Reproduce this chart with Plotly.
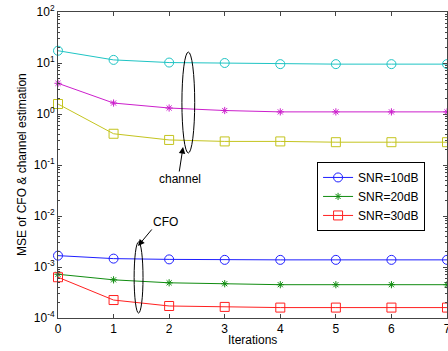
import plotly.graph_objects as go

iterations = [0, 1, 2, 3, 4, 5, 6, 7]

# channel estimation MSE
ch_snr10 = [17.4, 11.5, 10.2, 10.0, 9.5, 9.5, 9.5, 9.5]
ch_snr20 = [4.0, 1.64, 1.31, 1.17, 1.1, 1.1, 1.1, 1.1]
ch_snr30 = [1.57, 0.41, 0.31, 0.29, 0.29, 0.28, 0.28, 0.28]

# CFO MSE
cfo_snr10 = [1.67e-3, 1.46e-3, 1.41e-3, 1.38e-3, 1.38e-3, 1.38e-3, 1.38e-3, 1.38e-3]
cfo_snr20 = [7.2e-4, 5.6e-4, 4.9e-4, 4.7e-4, 4.5e-4, 4.5e-4, 4.5e-4, 4.5e-4]
cfo_snr30 = [6.3e-4, 2.25e-4, 1.72e-4, 1.65e-4, 1.6e-4, 1.6e-4, 1.6e-4, 1.6e-4]

legend_names = ["SNR=10dB", "SNR=20dB", "SNR=30dB"]

y_tickvals = [1e-4, 1e-3, 1e-2, 1e-1, 1, 10, 100]
y_ticktext = ["10<sup>-4</sup>", "10<sup>-3</sup>", "10<sup>-2</sup>", "10<sup>-1</sup>",
              "10<sup>0</sup>", "10<sup>1</sup>", "10<sup>2</sup>"]

FONT = "Liberation Sans, Arial, sans-serif"

fig = go.Figure()

def add(y, color, symbol, size, name=None, show=False):
    fig.add_trace(go.Scatter(
        x=iterations, y=y, mode="lines+markers",
        line=dict(color=color, width=1),
        marker=dict(symbol=symbol, size=size, color=color,
                    line=dict(color=color, width=1)),
        name=name, showlegend=show, cliponaxis=False))

add(ch_snr10, "#1fc4c4", "circle-open", 9)
add(ch_snr20, "#cc1fcc", "asterisk-open", 6)
add(ch_snr30, "#c4c41f", "square-open", 9)
add(cfo_snr10, "#1f1fff", "circle-open", 9, legend_names[0], True)
add(cfo_snr20, "#108c10", "asterisk-open", 6, legend_names[1], True)
add(cfo_snr30, "#ff2020", "square-open", 9, legend_names[2], True)

# ellipses
fig.add_shape(type="circle", xref="x", yref="y", x0=2.23, x1=2.46, y0=0.172, y1=16.4,
              line=dict(color="black", width=1))
fig.add_shape(type="circle", xref="x", yref="y", x0=1.37, x1=1.53, y0=1.25e-4, y1=3.09e-3,
              line=dict(color="black", width=1))

# arrows and labels
fig.add_annotation(x=2.25, y=-0.647, xref="x", yref="y", ax=-4, ay=26, text="",
                   showarrow=True, arrowhead=2, arrowsize=1.3, arrowwidth=1, arrowcolor="black")
fig.add_annotation(x=2.19, y=-1.275, xref="x", yref="y", text="channel", showarrow=False,
                   font=dict(family=FONT, size=12, color="black"))
fig.add_annotation(x=1.44, y=-2.588, xref="x", yref="y", ax=15, ay=-18, text="",
                   showarrow=True, arrowhead=2, arrowsize=1.3, arrowwidth=1, arrowcolor="black")
fig.add_annotation(x=1.94, y=-2.118, xref="x", yref="y", text="CFO", showarrow=False,
                   font=dict(family=FONT, size=12, color="black"))

# axis titles
fig.add_annotation(x=0.5, y=-22 / 306, xref="paper", yref="paper",
                   text="Iterations", showarrow=False, yanchor="middle",
                   font=dict(family=FONT, size=12, color="black"))
fig.add_annotation(x=-36 / 389, y=0.5, xref="paper", yref="paper", textangle=-90,
                   text="MSE of CFO & channel estimation", showarrow=False,
                   xanchor="center", yanchor="middle",
                   font=dict(family=FONT, size=12, color="black"))

fig.update_layout(
    width=448, height=351,
    margin=dict(l=58, r=1, t=12, b=33, autoexpand=False),
    paper_bgcolor="white", plot_bgcolor="white",
    font=dict(family=FONT, size=12, color="black"),
    legend=dict(x=0.666, y=0.51, xanchor="left", yanchor="top",
                bordercolor="black", borderwidth=1, bgcolor="white",
                font=dict(family=FONT, size=12), tracegroupgap=0),
)
fig.update_xaxes(
    range=[0, 7], tickvals=iterations, ticks="inside", ticklen=4,
    showline=True, linecolor="#444", linewidth=1, mirror="allticks",
    showgrid=False, zeroline=False, automargin=False,
    ticklabeloverflow="allow",
)
fig.update_yaxes(
    type="log", range=[-4, 2], tickvals=y_tickvals, ticktext=y_ticktext,
    ticks="inside", ticklen=4,
    showline=True, linecolor="#444", linewidth=1, mirror="allticks",
    showgrid=False, zeroline=False, automargin=False,
    minor=dict(ticks="inside", ticklen=2, showgrid=False, tickcolor="#444", dtick="D1"),
)

fig.write_html("out.html", config={"displayModeBar": False},
               post_script="document.body.style.margin='0';document.body.style.overflow='hidden';")
